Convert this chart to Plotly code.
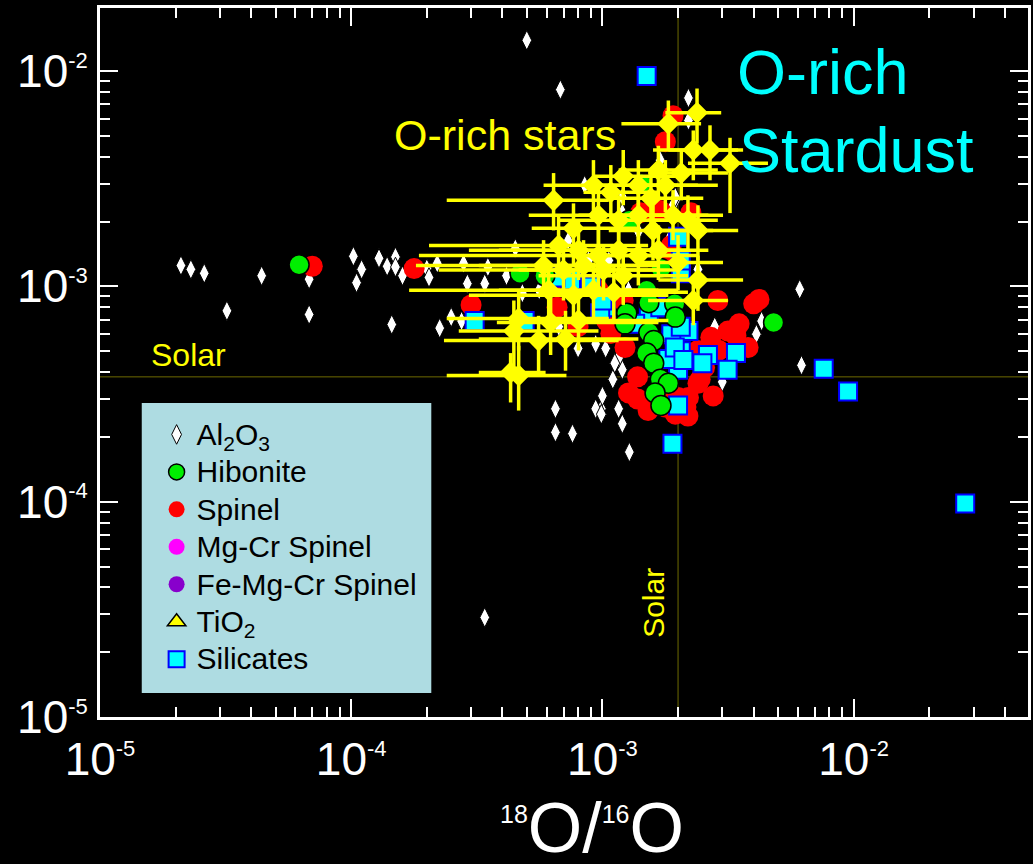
import numpy as np
import plotly.graph_objects as go

# ---------------- data ----------------
al2o3_x = [5.0e-4, 6.8e-4, 2.1e-5, 2.3e-5, 2.6e-5, 4.4e-5, 6.8e-5, 3.2e-5, 6.8e-5, 1.45e-4,
           2.25e-4, 1.02e-4, 1.1e-4, 1.05e-4, 1.29e-4, 1.39e-4, 1.5e-4, 1.5e-4, 1.6e-4, 2.0e-4,
           2.2e-4, 2.04e-4, 2.8e-4, 2.9e-4, 3.5e-4, 3.4e-4, 4.15e-4, 4.5e-4, 4.8e-4, 5.6e-4,
           8.5e-4, 1.2e-3, 1.7e-3, 2.2e-3, 2.2e-3, 1.95e-3, 1.2e-3, 6.1e-3, 4.3e-3, 4.1e-3,
           6.2e-3, 3.0e-3, 2.75e-4, 2.5e-4, 6.5e-4, 6.5e-4, 7.6e-4, 9.9e-4, 9.4e-4, 9.9e-4,
           1.16e-3, 1.2e-3, 1.1e-3, 1.2e-3, 1.16e-3, 1.28e-3, 2.8e-3, 6.7e-4, 8.0e-4, 9.4e-4,
           1.03e-3, 1.12e-3, 1.0e-3, 3.4e-4, 1.39e-3, 1.6e-3, 1.83e-3, 2.4e-3, 1.06e-3, 1.27e-3,
           7.3e-4, 8.8e-4, 1.95e-3, 1.88e-3, 2.4e-3]
al2o3_y = [1.39e-2, 8.2e-3, 1.25e-3, 1.2e-3, 1.15e-3, 1.12e-3, 1.08e-3, 7.7e-4, 7.4e-4, 6.65e-4,
           6.4e-4, 1.38e-3, 1.2e-3, 1.04e-3, 1.35e-3, 1.24e-3, 1.37e-3, 1.23e-3, 1.12e-3, 1.21e-3,
           1.28e-3, 1.1e-3, 1.28e-3, 1.03e-3, 1.23e-3, 1.03e-3, 1.12e-3, 1.5e-3, 9.3e-4, 9.6e-4,
           2.95e-3, 2.6e-3, 3.85e-3, 7.5e-3, 5.9e-3, 2.5e-3, 2.2e-3, 9.7e-4, 6.9e-4, 6.0e-4,
           4.3e-4, 3.6e-4, 6.9e-4, 7.2e-4, 2.7e-4, 2.1e-4, 2.07e-4, 2.7e-4, 2.7e-4, 2.55e-4,
           2.7e-4, 2.3e-4, 3.7e-4, 4.1e-4, 4.65e-4, 1.7e-4, 6.5e-4, 6.5e-4, 5.15e-4, 5.4e-4,
           5.15e-4, 4.4e-4, 3.1e-4, 2.9e-5, 1.8e-3, 1.47e-3, 1.63e-3, 1.2e-3, 1.32e-3, 9.6e-4,
           1.63e-3, 1.32e-3, 2.6e-3, 2.3e-3, 1.88e-3]

hibonite_x = [6.2e-5, 4.7e-4, 5.9e-4, 1.28e-3, 1.43e-3, 1.71e-3, 1.5e-3, 1.53e-3, 1.94e-3, 1.95e-3,
              1.25e-3, 1.23e-3, 1.53e-3, 1.6e-3, 1.5e-3, 1.6e-3, 1.7e-3, 1.83e-3, 1.62e-3, 1.71e-3,
              4.8e-3]
hibonite_y = [1.26e-3, 1.15e-3, 1.12e-3, 2.03e-3, 3.0e-3, 1.21e-3, 9.6e-4, 8.4e-4, 8.3e-4, 7.2e-4,
              7.5e-4, 6.7e-4, 6.1e-4, 5.6e-4, 4.9e-4, 4.4e-4, 3.7e-4, 3.55e-4, 3.2e-4, 2.8e-4,
              6.8e-4]

spinel_x = [7.0e-5, 1.78e-4, 3.0e-4, 1.91e-3, 1.78e-3, 2.25e-3, 1.88e-3, 1.88e-3, 2.05e-3, 4.2e-3,
            3.5e-3, 3.4e-3, 3.8e-3, 2.7e-3, 2.9e-3, 2.55e-3, 2.4e-3, 2.45e-3, 2.2e-3, 2.15e-3,
            1.95e-3, 1.78e-3, 1.38e-3, 1.27e-3, 1.38e-3, 2.0e-3, 1.08e-3, 1.04e-3, 8.0e-4, 6.6e-4,
            6.3e-4, 1.42e-3, 1.7e-3, 4.0e-3, 1.23e-3, 1.21e-3, 2.88e-3, 3.16e-3, 2.4e-3, 1.67e-3,
            1.52e-3, 2.19e-3, 2.76e-3, 9.64e-4]
spinel_y = [1.24e-3, 1.21e-3, 8.2e-4, 6.2e-3, 4.7e-3, 2.2e-3, 1.55e-3, 1.3e-3, 1.23e-3, 8.7e-4,
            6.7e-4, 5.9e-4, 5.2e-4, 5.8e-4, 5.05e-4, 4.2e-4, 3.55e-4, 3.7e-4, 3.05e-4, 2.75e-4,
            2.55e-4, 2.75e-4, 3.8e-4, 3.2e-4, 3.0e-4, 3.05e-4, 6.05e-4, 6.9e-4, 6.5e-4, 8.0e-4,
            1.05e-3, 2.2e-3, 2.25e-3, 8.3e-4, 5.2e-4, 8.6e-4, 8.6e-4, 6.2e-4, 5.04e-4, 3.1e-4,
            2.65e-4, 2.5e-4, 3.1e-4, 9.6e-4]

# these grain types are listed in the key but have no visible grains in this view
mgcr_x, mgcr_y = [None], [None]
femgcr_x, femgcr_y = [None], [None]
tio2_x, tio2_y = [None], [None]

silicate_x = [1.5e-3, 2.78e-2, 9.5e-3, 7.6e-3, 3.4e-3, 3.15e-3, 2.63e-3, 2.5e-3, 2.0e-3, 2.2e-3,
              2.05e-3, 1.83e-3, 1.88e-3, 1.78e-3, 1.53e-3, 1.03e-3, 9.8e-4, 2.05e-3, 1.94e-3, 2.1e-3,
              2.0e-3, 1.9e-3, 1.35e-3, 2.05e-3, 2.05e-3, 2.0e-3, 7.5e-4, 6.5e-4, 9.0e-4, 1.0e-3,
              3.1e-4, 4.9e-4, 1.7e-3]
silicate_y = [9.5e-3, 9.8e-5, 3.25e-4, 4.15e-4, 4.9e-4, 4.1e-4, 4.8e-4, 4.4e-4, 4.1e-4, 6.2e-4,
              5.0e-4, 4.6e-4, 6.0e-4, 8.0e-4, 7.5e-4, 8.0e-4, 7.5e-4, 6.5e-4, 5.2e-4, 4.55e-4,
              2.8e-4, 1.86e-4, 6.7e-4, 1.15e-3, 1.32e-3, 1.7e-3, 1.07e-3, 1.1e-3, 1.0e-3, 8.6e-4,
              6.9e-4, 6.9e-4, 8.0e-4]

star_x = [6.39e-4, 7.67e-4, 9.21e-4, 1.08e-3, 1.21e-3, 1.39e-3, 1.56e-3, 1.78e-3, 1.83e-3, 2.38e-3,
          2.68e-3, 2.30e-3, 3.22e-3, 2.06e-3, 1.67e-3, 9.64e-4, 1.16e-3, 1.39e-3, 1.59e-3, 1.91e-3,
          2.19e-3, 2.40e-3, 6.69e-4, 8.03e-4, 9.64e-4, 1.16e-3, 1.39e-3, 1.67e-3, 2.0e-3, 2.40e-3,
          2.30e-3, 5.83e-4, 7.0e-4, 8.41e-4, 1.01e-3, 1.21e-3, 6.11e-4, 7.67e-4, 9.21e-4, 1.11e-3,
          4.44e-4, 4.64e-4, 6.22e-4, 7.13e-4, 5.57e-4, 8.03e-4, 4.64e-4, 4.31e-4]
star_x_lo = [2.40e-4, 5.23e-4, 5.83e-4, 8.41e-4, 9.21e-4, 9.64e-4, 1.11e-3, 1.39e-3, 1.19e-3, 1.78e-3,
             1.83e-3, 1.59e-3, 2.19e-3, 1.52e-3, 1.16e-3, 5.09e-4, 6.69e-4, 8.03e-4, 1.06e-3, 1.27e-3,
             1.52e-3, 1.67e-3, 2.04e-4, 2.94e-4, 1.86e-4, 3.87e-4, 6.69e-4, 9.64e-4, 1.39e-3, 1.67e-3,
             1.52e-3, 1.81e-4, 2.23e-4, 3.22e-4, 4.64e-4, 5.57e-4, 1.70e-4, 2.94e-4, 3.87e-4, 5.57e-4,
             2.68e-4, 2.40e-4, 3.80e-4, 3.22e-4, 2.34e-4, 4.24e-4, 2.40e-4, 3.22e-4]
star_x_hi = [1.06e-3, 1.39e-3, 2.0e-3, 1.67e-3, 2.0e-3, 2.40e-3, 2.52e-3, 2.88e-3, 2.47e-3, 2.97e-3,
             3.63e-3, 3.47e-3, 4.56e-3, 3.16e-3, 2.88e-3, 2.19e-3, 2.40e-3, 2.64e-3, 2.76e-3, 3.02e-3,
             2.88e-3, 3.47e-3, 1.52e-3, 1.78e-3, 2.0e-3, 2.19e-3, 2.40e-3, 2.64e-3, 3.02e-3, 3.63e-3,
             3.16e-3, 1.52e-3, 1.67e-3, 1.67e-3, 2.0e-3, 2.19e-3, 1.67e-3, 1.83e-3, 2.0e-3, 2.19e-3,
             9.64e-4, 1.06e-3, 1.67e-3, 1.39e-3, 1.16e-3, 1.83e-3, 7.19e-4, 5.94e-4]
star_y = [2.51e-3, 1.86e-3, 2.95e-3, 2.74e-3, 3.25e-3, 2.95e-3, 2.57e-3, 2.95e-3, 5.7e-3, 6.4e-3,
          4.3e-3, 4.3e-3, 3.73e-3, 3.36e-3, 3.47e-3, 2.14e-3, 2.03e-3, 2.14e-3, 1.82e-3, 2.14e-3,
          2.03e-3, 1.82e-3, 1.55e-3, 1.47e-3, 1.39e-3, 1.47e-3, 1.39e-3, 1.47e-3, 1.29e-3, 1.07e-3,
          8.6e-4, 1.25e-3, 1.19e-3, 1.25e-3, 1.19e-3, 1.12e-3, 9.6e-4, 9.1e-4, 9.6e-4, 9.4e-4,
          6.2e-4, 7.1e-4, 6.8e-4, 5.7e-4, 5.6e-4, 6.95e-4, 3.86e-4, 3.98e-4]
star_y_lo = [1.82e-3, 1.25e-3, 2.21e-3, 2.03e-3, 2.38e-3, 2.14e-3, 1.86e-3, 2.21e-3, 4.3e-3, 4.6e-3,
             3.11e-3, 3.11e-3, 2.19e-3, 2.51e-3, 2.51e-3, 1.55e-3, 1.47e-3, 1.55e-3, 1.32e-3, 1.64e-3,
             1.47e-3, 1.32e-3, 1.12e-3, 1.07e-3, 9.6e-4, 1.07e-3, 1.01e-3, 1.07e-3, 9.6e-4, 7.7e-4,
             6.6e-4, 9.1e-4, 8.6e-4, 9.1e-4, 8.6e-4, 8.2e-4, 6.95e-4, 6.6e-4, 7.1e-4, 6.95e-4,
             4.06e-4, 5.04e-4, 4.8e-4, 4.06e-4, 3.86e-4, 5.04e-4, 2.65e-4, 2.89e-4]
star_y_hi = [3.36e-3, 2.43e-3, 3.86e-3, 3.66e-3, 4.3e-3, 3.86e-3, 3.47e-3, 3.86e-3, 7.3e-3, 8.3e-3,
             5.6e-3, 5.3e-3, 4.9e-3, 4.3e-3, 4.5e-3, 2.95e-3, 2.65e-3, 2.80e-3, 2.38e-3, 2.80e-3,
             2.65e-3, 2.38e-3, 2.14e-3, 2.03e-3, 1.92e-3, 2.03e-3, 1.82e-3, 1.92e-3, 1.73e-3, 1.39e-3,
             1.12e-3, 1.64e-3, 1.55e-3, 1.64e-3, 1.55e-3, 1.47e-3, 1.29e-3, 1.21e-3, 1.29e-3, 1.25e-3,
             8.6e-4, 9.6e-4, 9.1e-4, 7.7e-4, 7.3e-4, 9.4e-4, 5.3e-4, 4.9e-4]

solar_18 = 2.0e-3
solar_17 = 3.8e-4

x_tickvals = [1e-5, 1e-4, 1e-3, 1e-2]
y_tickvals = [1e-5, 1e-4, 1e-3, 1e-2]
tick_exps = ["-5", "-4", "-3", "-2"]

# ---------------- figure ----------------
SUP = "<sup><span style='font-size:22px'>{}</span></sup>"
tick_text = ["10" + SUP.format(e) for e in tick_exps]

minor_vals = [m * 10.0 ** d for d in range(-5, -1) for m in range(2, 10)]


def lg(name):
    return "<span style='font-size:30px'>" + name + "</span>"


fig = go.Figure()

fig.add_trace(go.Scatter(
    x=al2o3_x, y=al2o3_y, mode="markers", name=lg("Al<sub>2</sub>O<sub>3</sub>"), legendrank=1,
    marker=dict(symbol="diamond-tall", size=14, color="white", line=dict(color="black", width=1))))
fig.add_trace(go.Scatter(
    x=spinel_x, y=spinel_y, mode="markers", name=lg("Spinel"), legendrank=3,
    marker=dict(symbol="circle", size=21, color="#FF0000", line=dict(width=0))))
fig.add_trace(go.Scatter(
    x=mgcr_x, y=mgcr_y, mode="markers", name=lg("Mg-Cr Spinel"), legendrank=4,
    marker=dict(symbol="circle", size=20, color="#FF00FF", line=dict(width=0))))
fig.add_trace(go.Scatter(
    x=femgcr_x, y=femgcr_y, mode="markers", name=lg("Fe-Mg-Cr Spinel"), legendrank=5,
    marker=dict(symbol="circle", size=20, color="#8800CC", line=dict(width=0))))
fig.add_trace(go.Scatter(
    x=tio2_x, y=tio2_y, mode="markers", name=lg("TiO<sub>2</sub>"), legendrank=6,
    marker=dict(symbol="triangle-up", size=18, color="#FFFF00", line=dict(color="black", width=1.5))))
fig.add_trace(go.Scatter(
    x=silicate_x, y=silicate_y, mode="markers", name=lg("Silicates"), legendrank=7,
    marker=dict(symbol="square", size=18, color="#00FFFF", line=dict(color="#0000FF", width=2))))
fig.add_trace(go.Scatter(
    x=hibonite_x, y=hibonite_y, mode="markers", name=lg("Hibonite"), legendrank=2,
    marker=dict(symbol="circle", size=20, color="#00EE00", line=dict(color="black", width=1.5))))

sx = np.array(star_x)
sy = np.array(star_y)
fig.add_trace(go.Scatter(
    x=star_x, y=star_y, mode="markers", name="O-rich stars", showlegend=False,
    marker=dict(symbol="diamond", size=17, color="#FFFF00", line=dict(width=0)),
    error_x=dict(type="data", symmetric=False, array=np.array(star_x_hi) - sx,
                 arrayminus=sx - np.array(star_x_lo), color="#FFFF00", thickness=3.5, width=0),
    error_y=dict(type="data", symmetric=False, array=np.array(star_y_hi) - sy,
                 arrayminus=sy - np.array(star_y_lo), color="#FFFF00", thickness=3.5, width=0)))

# solar reference lines
line_col = "#6E6A00"
fig.add_shape(type="line", xref="x", yref="paper", x0=solar_18, x1=solar_18, y0=0, y1=1,
              line=dict(color=line_col, width=1), layer="below")
fig.add_shape(type="line", xref="paper", yref="y", x0=0, x1=1, y0=solar_17, y1=solar_17,
              line=dict(color=line_col, width=1), layer="below")

# legend background box
fig.add_shape(type="rect", xref="paper", yref="paper", x0=0.045, x1=0.357, y0=0.034, y1=0.443,
              fillcolor="#AEDCE2", line=dict(width=0), layer="above")

axis_common = dict(
    type="log", showgrid=False, zeroline=False, showline=True, linecolor="white", linewidth=3,
    mirror="allticks", ticks="inside", ticklen=18, tickwidth=2, tickcolor="white",
    tickmode="array", ticktext=tick_text,
    tickfont=dict(family="Liberation Sans Narrow, Arial Narrow, Liberation Sans, Arial", size=46, color="white"),
    minor=dict(tickmode="array", tickvals=minor_vals, ticks="inside", ticklen=10, tickwidth=2,
               tickcolor="white", showgrid=False),
)

fig.update_layout(
    width=1033, height=864,
    paper_bgcolor="black", plot_bgcolor="black",
    margin=dict(l=100, r=2, t=8, b=147),
    xaxis=dict(axis_common, tickvals=x_tickvals, range=[-5.0, -1.306]),
    yaxis=dict(axis_common, tickvals=y_tickvals, range=[-5.0, -1.707]),
    showlegend=True,
    legend=dict(x=0.061, y=0.432, xanchor="left", yanchor="top", bgcolor="rgba(0,0,0,0)",
                font=dict(family="Liberation Sans, Arial", size=26.5, color="black"),
                itemsizing="trace", tracegroupgap=0),
    font=dict(family="Liberation Sans, Arial", color="white"),
)

annotations = [
    dict(text="O-rich stars", x=0.436, y=0.821, xref="paper", yref="paper", showarrow=False,
         xanchor="center", yanchor="middle", font=dict(size=43, color="#FFFF00")),
    dict(text="O-rich", x=0.684, y=0.910, xref="paper", yref="paper", showarrow=False,
         xanchor="left", yanchor="middle", font=dict(size=63, color="#00FFFF")),
    dict(text="Stardust", x=0.686, y=0.800, xref="paper", yref="paper", showarrow=False,
         xanchor="left", yanchor="middle", font=dict(size=63, color="#00FFFF")),
    dict(text="Solar", x=0.053, y=0.511, xref="paper", yref="paper", showarrow=False,
         xanchor="left", yanchor="middle", font=dict(size=32, color="#FFFF00")),
    dict(text="Solar", x=0.597, y=0.161, xref="paper", yref="paper", showarrow=False, textangle=-90,
         xanchor="center", yanchor="middle", font=dict(size=30, color="#FFFF00")),
    dict(text="<sup><span style='font-size:25px'>18</span></sup>O/<sup><span style='font-size:25px'>16</span></sup>O",
         x=0.53, y=-0.156, xref="paper", yref="paper", showarrow=False, xanchor="center", yanchor="middle",
         font=dict(family="Liberation Sans Narrow, Arial Narrow, Liberation Sans, Arial", size=70, color="white")),
]
fig.update_layout(annotations=annotations)

fig.write_html("out.html")
